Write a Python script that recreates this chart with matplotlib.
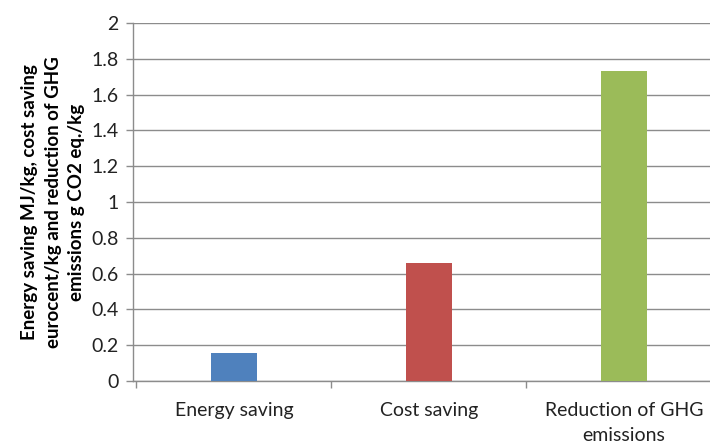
import numpy as np
import matplotlib
matplotlib.use('Agg')
import matplotlib.pyplot as plt

categories = ['Energy saving', 'Cost saving', 'Reduction of GHG\nemissions']
values = [0.155, 0.66, 1.73]
colors = ['#4F81BD', '#C0504D', '#9BBB59']
y_ticks = [0, 0.2, 0.4, 0.6, 0.8, 1, 1.2, 1.4, 1.6, 1.8, 2]
y_label = ('Energy saving MJ/kg, cost saving\n'
           'eurocent/kg and reduction of GHG\n'
           'emissions g CO2 eq./kg')

plt.rcParams['font.family'] = ['Lato', 'DejaVu Sans']

fig = plt.figure(figsize=(7.1, 4.43), dpi=100)
ax = fig.add_axes([0.187, 0.140, 0.813, 0.808])

x = np.arange(len(categories))
ax.bar(x, values, width=0.236, color=colors, zorder=3)

grid_color = '#8C8C8C'
ax.set_ylim(0, 2)
ax.set_yticks(y_ticks)
ax.set_yticklabels([f'{v:g}' for v in y_ticks])
ax.yaxis.grid(True, color=grid_color, linewidth=1.0, zorder=0)
ax.set_xlim(-0.518, 2.441)
ax.set_xticks(x)
ax.set_xticklabels(categories, linespacing=1.55)
ax.set_xticks([-0.5, 0.5, 1.5], minor=True)
ax.tick_params(axis='x', which='major', length=0, pad=15, labelsize=14, colors='#222222')
ax.tick_params(axis='x', which='minor', length=5, color=grid_color, width=1)
ax.tick_params(axis='y', length=5, color=grid_color, width=1, labelsize=14,
               labelcolor='#222222', pad=5)

for side in ['top', 'right']:
    ax.spines[side].set_visible(False)
for side in ['left', 'bottom']:
    ax.spines[side].set_color(grid_color)
    ax.spines[side].set_linewidth(1.0)

ax.set_ylabel(y_label, fontsize=13.5, fontweight='bold', linespacing=1.45)
ax.yaxis.set_label_coords(-0.083, 0.5)

fig.savefig('out.png', dpi=100)
